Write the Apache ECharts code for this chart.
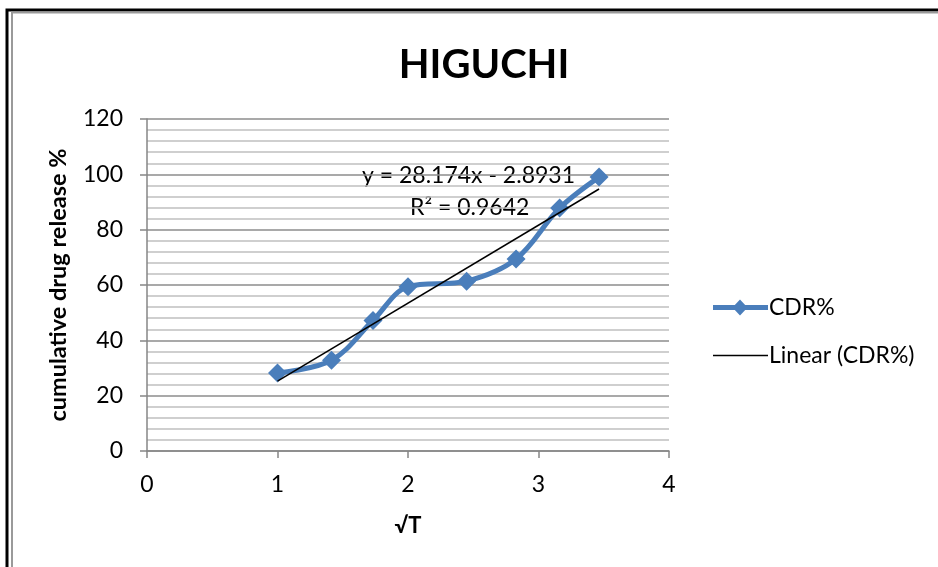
<!DOCTYPE html>
<html>
<head>
<meta charset="utf-8">
<script src="https://cdn.jsdelivr.net/npm/echarts@6/dist/echarts.min.js"></script>
<style>
html,body{margin:0;padding:0;background:#fff;}
#chart{width:938px;height:567px;}
</style>
</head>
<body>
<div id="chart"></div>
<script>
// ---- data ----
const sqrtT = [1, 1.414, 1.732, 2, 2.449, 2.828, 3.162, 3.464];
const cdr = [28.2, 32.8, 47.2, 59.4, 61.4, 69.4, 87.8, 99.0];
const trendX = [1, 3.464];
const trendY = [25.28, 94.70];
const equationText = 'y = 28.174x - 2.8931';
const r2Text = 'R² = 0.9642';
const seriesNames = ['CDR%', 'Linear (CDR%)'];
const titleText = 'HIGUCHI';
const xName = '√T';
const yName = 'cumulative drug release %';

const FONT = 'Lato, "Open Sans", sans-serif';
const chart = echarts.init(document.getElementById('chart'));
chart.setOption({
  animation: false,
  backgroundColor: '#fff',
  title: {
    text: titleText, left: 479, top: 40, textAlign: 'center',
    textStyle: {fontFamily: FONT, fontWeight: 'bold', fontSize: 40, color: '#000'}
  },
  grid: {left: 147, right: 269, top: 119, bottom: 116},
  legend: [
    {
      orient: 'vertical', left: 713, top: 296, padding: 0, itemWidth: 55, itemHeight: 16,
      textStyle: {fontFamily: FONT, fontSize: 23, color: '#000', padding: [0,0,0,-4]},
      data: [{name: seriesNames[0], icon: 'path://M0,5.5H21.84L27,0L32.16,5.5H55V10.5H32.16L27,16L21.84,10.5H0Z'}]
    },
    {
      orient: 'vertical', left: 713, top: 344, padding: 0, itemWidth: 55, itemHeight: 1.5,
      textStyle: {fontFamily: FONT, fontSize: 23, color: '#000', padding: [0,0,0,-4]},
      data: [{name: seriesNames[1], icon: 'rect'}]
    }
  ],
  xAxis: {
    type: 'value', min: 0, max: 4, interval: 1,
    name: xName, nameLocation: 'middle', nameGap: 64,
    nameTextStyle: {fontFamily: FONT, fontWeight: 'bold', fontSize: 22, color: '#000'},
    axisLine: {lineStyle: {color: '#868686', width: 1.5}},
    axisTick: {show: true, length: 7, lineStyle: {color: '#868686', width: 1.5}},
    axisLabel: {fontFamily: FONT, fontSize: 23, color: '#000', margin: 22},
    splitLine: {show: false}
  },
  yAxis: {
    type: 'value', min: 0, max: 120, interval: 20,
    name: yName, nameLocation: 'middle', nameGap: 77, nameRotate: 90,
    nameTextStyle: {fontFamily: FONT, fontWeight: 'bold', fontSize: 23.5, color: '#000'},
    axisLine: {show: true, lineStyle: {color: '#868686', width: 1.5}},
    axisTick: {show: true, length: 7, lineStyle: {color: '#868686', width: 1.5}},
    axisLabel: {fontFamily: FONT, fontSize: 23, color: '#000', margin: 24},
    splitLine: {lineStyle: {color: '#8c8c8c', width: 1.5}},
    minorTick: {show: false, splitNumber: 5},
    minorSplitLine: {show: true, lineStyle: {color: '#c0c0c0', width: 1.5}}
  },
  series: [
    {
      name: seriesNames[0], type: 'line', smooth: 0.35,
      data: sqrtT.map((x, i) => [x, cdr[i]]),
      symbol: 'diamond', symbolSize: 19,
      lineStyle: {color: '#4a7ebb', width: 5},
      itemStyle: {color: '#4a7ebb'},
      z: 2
    },
    {
      name: seriesNames[1], type: 'line', symbol: 'none',
      data: trendX.map((x, i) => [x, trendY[i]]),
      lineStyle: {color: '#000', width: 1.5},
      itemStyle: {color: '#000'},
      z: 3
    }
  ],
  graphic: [
    {type: 'rect', shape: {x: 7, y: 10, width: 1000, height: 700}, style: {fill: 'none', stroke: '#000', lineWidth: 3}},
    {type: 'rect', shape: {x: 12, y: 12.5, width: 1000, height: 700}, style: {fill: 'none', stroke: '#9a9a9a', lineWidth: 2}},
    {type: 'text', left: 362, top: 164, style: {text: equationText, font: '23px ' + FONT, fill: '#000'}},
    {type: 'text', left: 410, top: 196, style: {text: r2Text, font: '23px ' + FONT, fill: '#000'}}
  ]
});
</script>
</body>
</html>
